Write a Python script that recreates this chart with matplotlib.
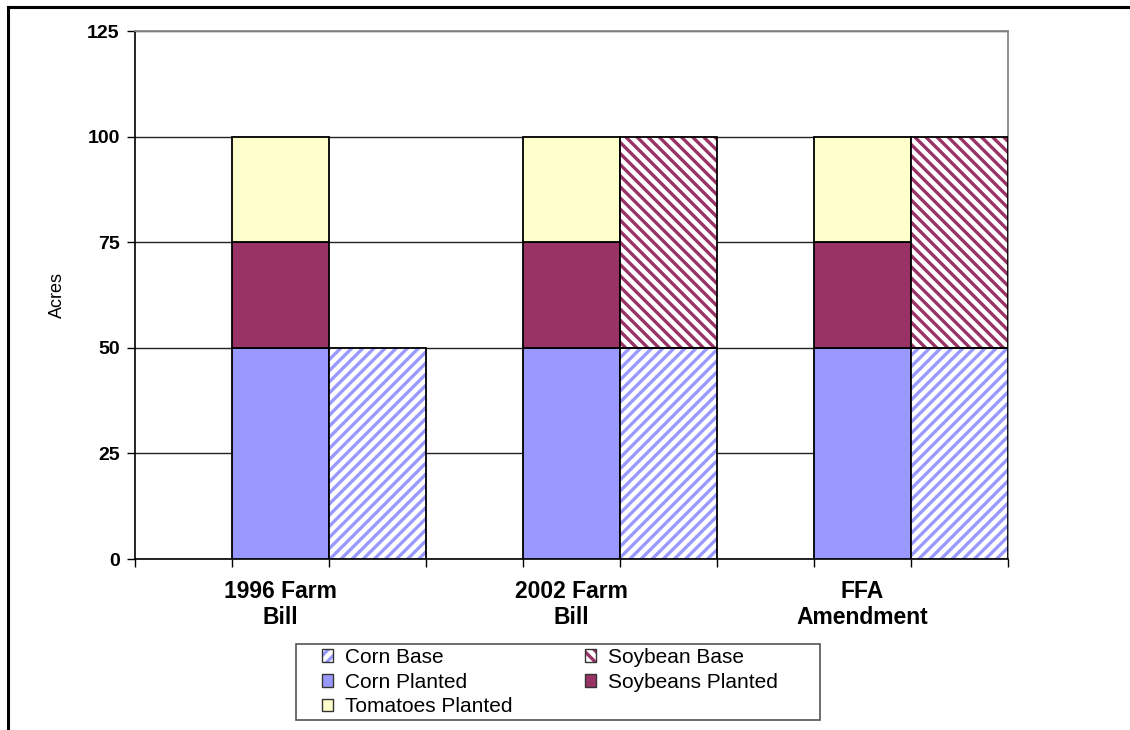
import matplotlib
matplotlib.use("Agg")
import matplotlib.pyplot as plt
from matplotlib.patches import Patch, Rectangle
from matplotlib.lines import Line2D
from matplotlib.legend_handler import HandlerTuple

plt.rcParams['font.family'] = ['Liberation Sans', 'DejaVu Sans']
plt.rcParams['hatch.linewidth'] = 2.4

categories = ["1996 Farm\nBill", "2002 Farm\nBill", "FFA\nAmendment"]
corn_planted = [50, 50, 50]
soybeans_planted = [25, 25, 25]
tomatoes_planted = [25, 25, 25]
corn_base = [50, 50, 50]
soybean_base = [0, 50, 50]
y_ticks = [0, 25, 50, 75, 100, 125]

C_CORN = '#9999FF'
C_SOY = '#993366'
C_TOM = '#FFFFCC'
H_CORN = '///'
H_SOY = '\\\\\\'

W, H = 1130, 730
fig = plt.figure(figsize=(W / 100, H / 100), dpi=100)
ax = fig.add_axes([135 / W, 1 - 559 / H, (1008 - 135) / W, (559 - 31) / H])

n = len(categories)
planted_x = [3 * i + 1.5 for i in range(n)]
base_x = [3 * i + 2.5 for i in range(n)]

# planted stack
ax.bar(planted_x, corn_planted, width=1, color=C_CORN, edgecolor='black', linewidth=1.3, zorder=3)
ax.bar(planted_x, soybeans_planted, width=1, bottom=corn_planted, color=C_SOY,
       edgecolor='black', linewidth=1.3, zorder=3)
bot2 = [a + b for a, b in zip(corn_planted, soybeans_planted)]
ax.bar(planted_x, tomatoes_planted, width=1, bottom=bot2, color=C_TOM,
       edgecolor='black', linewidth=1.3, zorder=3)

# base stack (hatched)
ax.bar(base_x, corn_base, width=1, color='white', edgecolor=C_CORN, hatch=H_CORN,
       linewidth=0, zorder=3)
ax.bar(base_x, corn_base, width=1, fill=False, edgecolor='black', linewidth=1.3, zorder=4)
for x, b, v in zip(base_x, corn_base, soybean_base):
    if v > 0:
        ax.bar([x], [v], width=1, bottom=[b], color='white', edgecolor=C_SOY,
               hatch=H_SOY, linewidth=0, zorder=3)
        ax.bar([x], [v], width=1, bottom=[b], fill=False, edgecolor='black',
               linewidth=1.3, zorder=4)

ax.set_xlim(0, 3 * n)
ax.set_ylim(0, 125)
ax.set_yticks(y_ticks)
ax.set_yticklabels([str(t) for t in y_ticks], fontsize=14, fontweight='bold')
ax.yaxis.grid(True, color='#222222', linewidth=1.0)
ax.set_axisbelow(True)

ax.set_xticks(range(0, 3 * n + 1))
ax.set_xticklabels([])
ax.set_xticks(planted_x, minor=True)
ax.set_xticklabels(categories, minor=True, fontsize=16.5, fontweight='bold', linespacing=1.2)
ax.tick_params(axis='x', which='minor', length=0, pad=15)
ax.tick_params(axis='x', which='major', length=6, width=1, direction='out')
ax.tick_params(axis='y', length=6, width=1, direction='out', pad=5)

for s in ['top', 'right']:
    ax.spines[s].set_color('#888888')
    ax.spines[s].set_linewidth(1.3)
for s in ['left', 'bottom']:
    ax.spines[s].set_color('black')
    ax.spines[s].set_linewidth(1.2)

fig.text(57 / W, 1 - 295 / H, 'Acres', rotation=90, ha='center', va='center', fontsize=13)


def hatched(color, hatch):
    return (Patch(facecolor='white', edgecolor=color, hatch=hatch, linewidth=0),
            Patch(facecolor='none', edgecolor='#333333', linewidth=1.0))


col1_handles = [hatched(C_CORN, H_CORN),
                Patch(facecolor=C_CORN, edgecolor='#333333'),
                Patch(facecolor=C_TOM, edgecolor='#333333')]
col1_labels = ['Corn Base', 'Corn Planted', 'Tomatoes Planted']
col2_handles = [hatched(C_SOY, H_SOY),
                Patch(facecolor=C_SOY, edgecolor='#333333')]
col2_labels = ['Soybean Base', 'Soybeans Planted']

leg_kw = dict(loc='upper left', fontsize=15, frameon=False,
              handlelength=0.55, handleheight=0.55, handletextpad=0.55,
              labelspacing=0.27, borderpad=0, borderaxespad=0,
              handler_map={tuple: HandlerTuple(ndivide=1, pad=0)})
fig.legend(col1_handles, col1_labels, bbox_to_anchor=(322 / W, 1 - 648 / H), **leg_kw)
fig.legend(col2_handles, col2_labels, bbox_to_anchor=(585 / W, 1 - 648 / H), **leg_kw)
fig.add_artist(Rectangle((296 / W, 1 - 720 / H), (820 - 296) / W, (720 - 644) / H,
                         transform=fig.transFigure, fill=False, edgecolor='#555555',
                         linewidth=1.2))

# outer chart frame (partially visible)
fig.add_artist(Line2D([8 / W, 8 / W], [0, 1 - 7 / H], color='black', linewidth=2.2,
                      transform=fig.transFigure))
fig.add_artist(Line2D([8 / W, 1], [1 - 7 / H, 1 - 7 / H], color='black', linewidth=2.2,
                      transform=fig.transFigure))

fig.savefig('out.png', dpi=100)
